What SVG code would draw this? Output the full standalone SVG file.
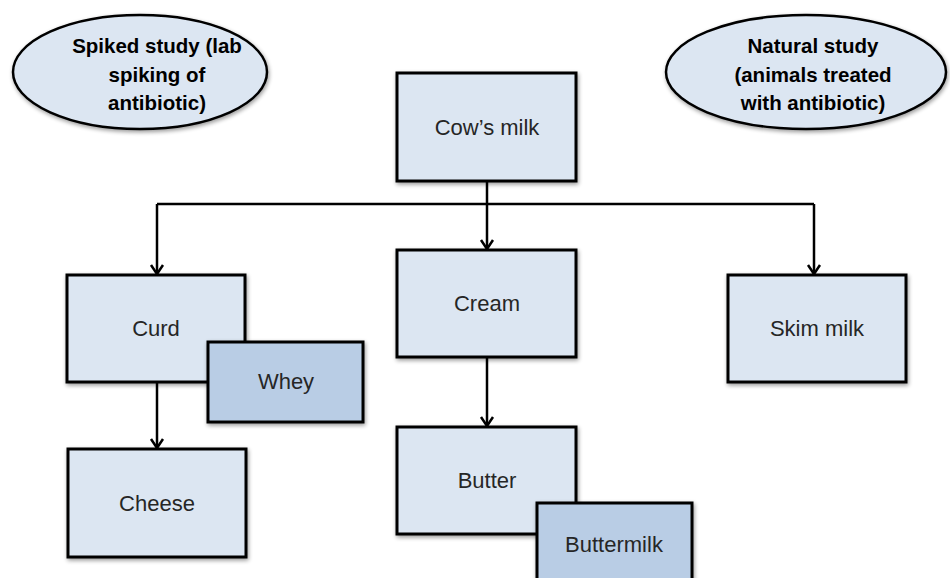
<svg xmlns="http://www.w3.org/2000/svg" width="950" height="578" viewBox="0 0 950 578">
<defs>
<style>
.box{fill:#dce6f2;stroke:#000;stroke-width:3;filter:url(#sh)}
.box2{fill:#b9cde5;stroke:#000;stroke-width:3;filter:url(#sh)}
.ell{fill:#dce6f2;stroke:#000;stroke-width:2.5;filter:url(#sh)}
.t{font-family:"Liberation Sans",Arial,sans-serif;font-size:22px;fill:#262626;text-anchor:middle}
.tb{font-family:"Liberation Sans",Arial,sans-serif;font-size:20.5px;font-weight:bold;fill:#000;text-anchor:middle}
.c{fill:none;stroke:#000;stroke-width:2.5}
</style>
<filter id="sh" x="-10%" y="-10%" width="125%" height="130%">
<feGaussianBlur in="SourceAlpha" stdDeviation="2"/>
<feOffset dx="1" dy="2" result="b"/>
<feComponentTransfer><feFuncA type="linear" slope="0.4"/></feComponentTransfer>
<feMerge><feMergeNode/><feMergeNode in="SourceGraphic"/></feMerge>
</filter>
</defs>
<rect width="950" height="578" fill="#fff"/>
<g id="connectors">
<path class="c" d="M487,181 V204"/>
<path class="c" d="M157,204 H814"/>
<path class="c" d="M157,204 V274"/>
<path class="c" d="M814,204 V274"/>
<path class="c" d="M487,204 V249"/>
<path class="c" d="M157,382 V448"/>
<path class="c" d="M487,357 V426"/>
<g fill="none" stroke="#000" stroke-width="2.5">
<path d="M151,265 L157,274 L163,265"/>
<path d="M808,265 L814,274 L820,265"/>
<path d="M481,240 L487,249 L493,240"/>
<path d="M151,439 L157,448 L163,439"/>
<path d="M481,417 L487,426 L493,417"/>
</g>
</g>
<g id="spiked">
<ellipse class="ell" cx="140" cy="72" rx="127" ry="57"/>
<text class="tb" x="157" y="53">Spiked study (lab</text>
<text class="tb" x="157" y="82">spiking of</text>
<text class="tb" x="157" y="110">antibiotic)</text>
</g>
<g id="natural">
<ellipse class="ell" cx="806" cy="72" rx="140" ry="57"/>
<text class="tb" x="813" y="53">Natural study</text>
<text class="tb" x="813" y="82">(animals treated</text>
<text class="tb" x="813" y="110">with antibiotic)</text>
</g>
<g id="cows-milk">
<rect class="box" x="397" y="73" width="179" height="108"/>
<text class="t" x="487" y="135">Cow’s milk</text>
</g>
<g id="curd">
<rect class="box" x="67" y="275" width="178" height="107"/>
<text class="t" x="156" y="336">Curd</text>
</g>
<g id="whey">
<rect class="box2" x="208" y="342" width="155" height="80"/>
<text class="t" x="286" y="389">Whey</text>
</g>
<g id="cheese">
<rect class="box" x="68" y="449" width="178" height="108"/>
<text class="t" x="157" y="511">Cheese</text>
</g>
<g id="cream">
<rect class="box" x="397" y="250" width="179" height="107"/>
<text class="t" x="487" y="311">Cream</text>
</g>
<g id="butter">
<rect class="box" x="397" y="427" width="179" height="107"/>
<text class="t" x="487" y="488">Butter</text>
</g>
<g id="buttermilk">
<rect class="box2" x="537" y="503" width="155" height="82"/>
<text class="t" x="614" y="552">Buttermilk</text>
</g>
<g id="skim-milk">
<rect class="box" x="728" y="275" width="178" height="107"/>
<text class="t" x="817" y="336">Skim milk</text>
</g>
</svg>
